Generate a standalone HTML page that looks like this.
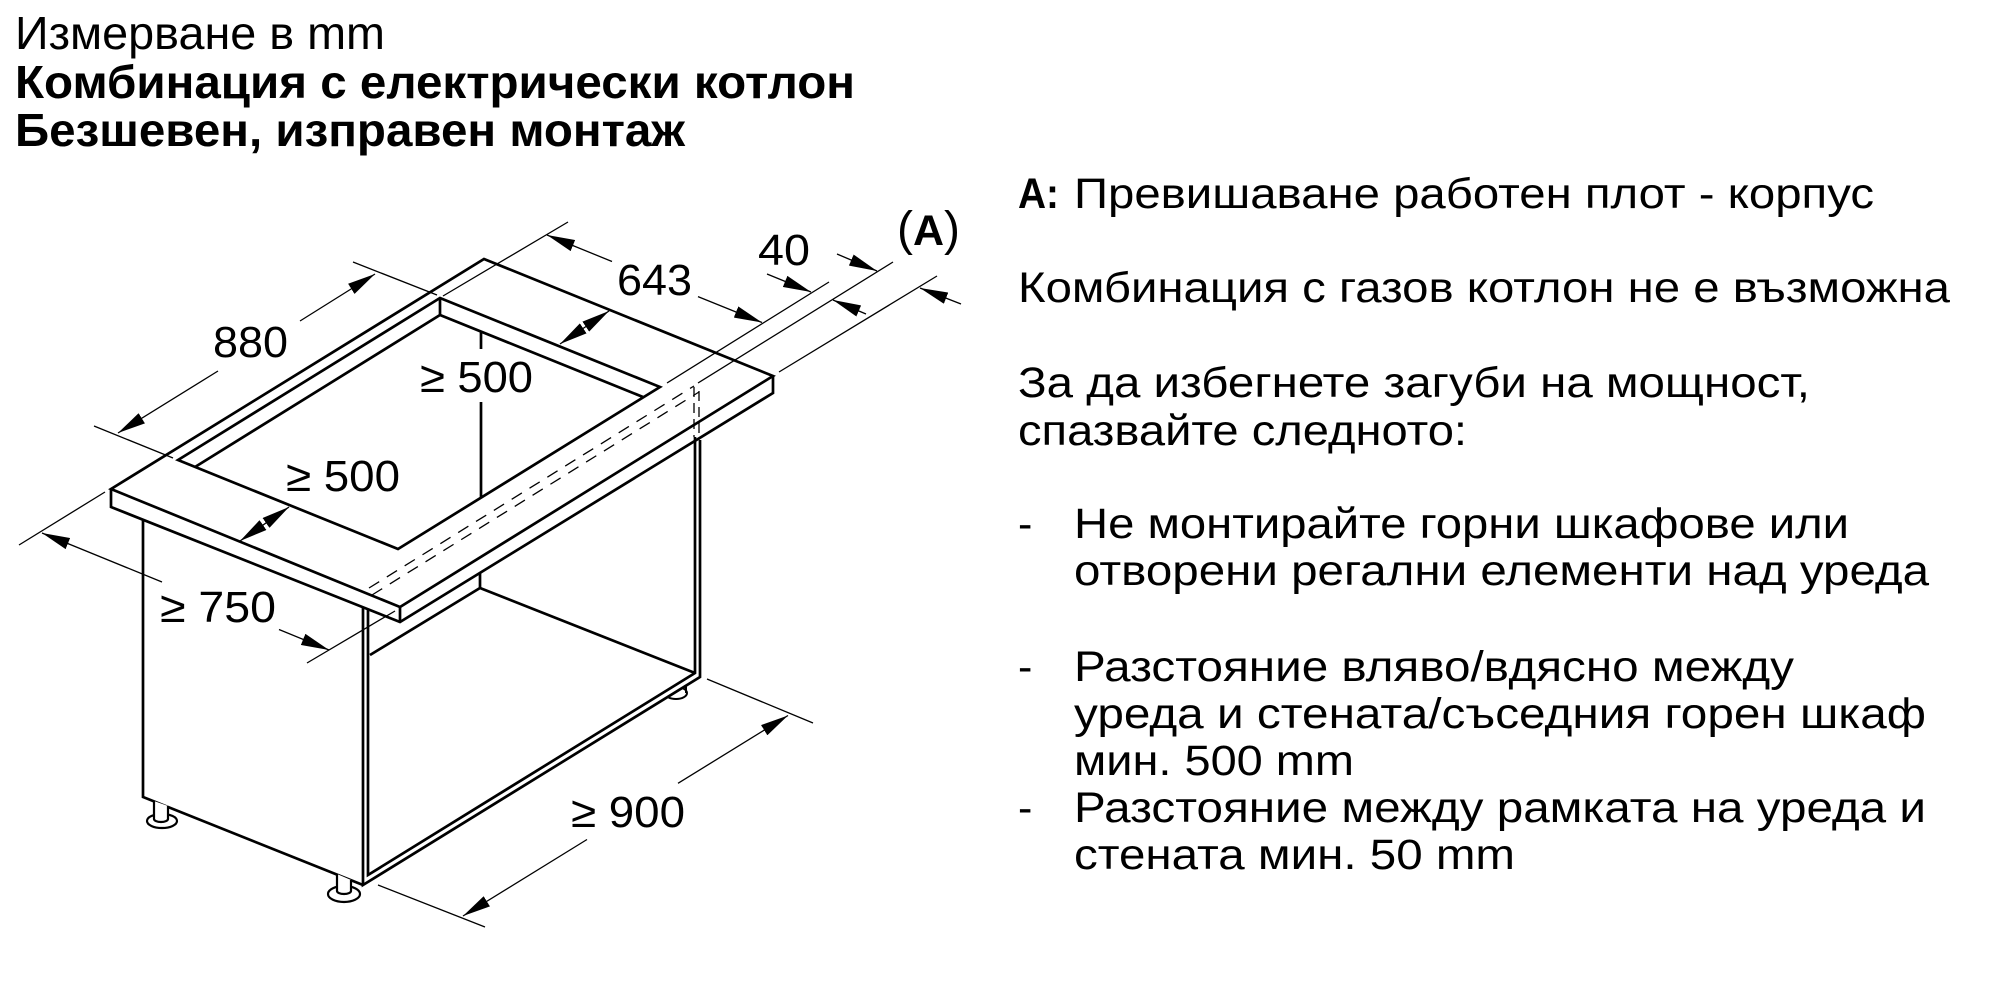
<!DOCTYPE html>
<html>
<head>
<meta charset="utf-8">
<style>
html,body{margin:0;padding:0;background:#fff;}
svg{display:block;}
text{font-family:"Liberation Sans","DejaVu Sans",sans-serif;fill:#000;}
</style>
</head>
<body>
<svg width="2000" height="1000" viewBox="0 0 2000 1000" xmlns="http://www.w3.org/2000/svg">
<defs>
<marker id="ah" viewBox="0 0 28 12" refX="28" refY="6" markerWidth="28" markerHeight="12" markerUnits="userSpaceOnUse" orient="auto-start-reverse">
<path d="M0,0 L28,6 L0,12 z" fill="#000"/>
</marker>
</defs>
<rect x="0" y="0" width="2000" height="1000" fill="#fff"/>

<!-- Header -->
<text x="15" y="49" font-size="46" textLength="370" lengthAdjust="spacingAndGlyphs">Измерване в mm</text>
<text x="15" y="98" font-size="46" font-weight="bold" textLength="840" lengthAdjust="spacingAndGlyphs">Комбинация с електрически котлон</text>
<text x="15" y="146" font-size="46" font-weight="bold" textLength="670" lengthAdjust="spacingAndGlyphs">Безшевен, изправен монтаж</text>

<!-- Right text -->
<g font-size="43">
<text x="1018" y="208" font-weight="bold" textLength="41" lengthAdjust="spacingAndGlyphs">A:</text>
<text x="1074" y="208" textLength="800" lengthAdjust="spacingAndGlyphs">Превишаване работен плот - корпус</text>
<text x="1018" y="302" textLength="932" lengthAdjust="spacingAndGlyphs">Комбинация с газов котлон не е възможна</text>
<text x="1018" y="397" textLength="792" lengthAdjust="spacingAndGlyphs">За да избегнете загуби на мощност,</text>
<text x="1018" y="445" textLength="449" lengthAdjust="spacingAndGlyphs">спазвайте следното:</text>
<text x="1018" y="538">-</text>
<text x="1074" y="538" textLength="775" lengthAdjust="spacingAndGlyphs">Не монтирайте горни шкафове или</text>
<text x="1074" y="585" textLength="855" lengthAdjust="spacingAndGlyphs">отворени регални елементи над уреда</text>
<text x="1018" y="681">-</text>
<text x="1074" y="681" textLength="720" lengthAdjust="spacingAndGlyphs">Разстояние вляво/вдясно между</text>
<text x="1074" y="728" textLength="852" lengthAdjust="spacingAndGlyphs">уреда и стената/съседния горен шкаф</text>
<text x="1074" y="775" textLength="280" lengthAdjust="spacingAndGlyphs">мин. 500 mm</text>
<text x="1018" y="822">-</text>
<text x="1074" y="822" textLength="852" lengthAdjust="spacingAndGlyphs">Разстояние между рамката на уреда и</text>
<text x="1074" y="869" textLength="441" lengthAdjust="spacingAndGlyphs">стената мин. 50 mm</text>
</g>

<!-- back foot (behind cabinet) -->
<ellipse cx="676" cy="693" rx="11" ry="6" fill="#fff" stroke="#000" stroke-width="2"/>
<line x1="686" y1="686" x2="686" y2="693" stroke="#000" stroke-width="2"/>
<!-- cabinet front face white cover -->
<polygon points="363,608 700,400 700,677 363,885" fill="#fff"/>

<!-- Thin dimension / extension lines -->
<g stroke="#000" stroke-width="1.3" fill="none">
<line x1="94" y1="426" x2="173" y2="458"/>
<line x1="353" y1="262" x2="437" y2="295"/>
<line x1="443" y1="296" x2="568" y2="222"/>
<line x1="667" y1="383" x2="829" y2="282"/>
<line x1="698" y1="383" x2="893" y2="262"/>
<line x1="779" y1="372" x2="937" y2="276"/>
<line x1="19" y1="545" x2="105" y2="492"/>
<line x1="307" y1="663" x2="395" y2="611"/>
<line x1="378" y1="885" x2="485" y2="927"/>
<line x1="707" y1="679" x2="813" y2="723"/>
<line x1="369" y1="588" x2="694" y2="386" stroke-dasharray="12 9"/>
<line x1="372" y1="595" x2="699" y2="392" stroke-dasharray="12 9"/>
<line x1="694" y1="387" x2="694" y2="437" stroke-dasharray="10 6"/>
<line x1="699" y1="391" x2="699" y2="440" stroke-dasharray="10 6"/>
</g>

<!-- dimension lines with arrows -->
<g stroke="#000" stroke-width="1.3" fill="none">
<line x1="118" y1="433" x2="218" y2="371" marker-start="url(#ah)"/>
<line x1="300" y1="321" x2="375" y2="274" marker-end="url(#ah)"/>
<line x1="547" y1="235" x2="612" y2="261.5" marker-start="url(#ah)"/>
<line x1="698" y1="296.6" x2="762" y2="322.5" marker-end="url(#ah)"/>
<line x1="42" y1="533" x2="162" y2="582" marker-start="url(#ah)"/>
<line x1="279" y1="629.5" x2="329" y2="650" marker-end="url(#ah)"/>
<line x1="463" y1="916" x2="587" y2="839.5" marker-start="url(#ah)"/>
<line x1="678" y1="783.3" x2="788" y2="715.5" marker-end="url(#ah)"/>
<line x1="240" y1="541" x2="289" y2="507" marker-start="url(#ah)" marker-end="url(#ah)"/>
<line x1="560" y1="344" x2="609" y2="311" marker-start="url(#ah)" marker-end="url(#ah)"/>
<line x1="767" y1="274" x2="811" y2="292" marker-end="url(#ah)"/>
<line x1="837" y1="254" x2="877" y2="271" marker-end="url(#ah)"/>
<line x1="866" y1="314" x2="833" y2="300" marker-end="url(#ah)"/>
<line x1="961" y1="304" x2="920" y2="288" marker-end="url(#ah)"/>
</g>

<!-- Main thick lines -->
<g stroke="#000" stroke-width="2.7" fill="none" stroke-linejoin="miter">
<polygon points="111,489 484,259 773,376 400,607"/>
<polyline points="111,489 111,507 400,622 773,393 773,376"/>
<line x1="400" y1="607" x2="400" y2="622"/>
<polygon points="178,460 440,298 660,387 398,549"/>
<polyline points="195,467 440,315 643,397"/>
<line x1="440" y1="298" x2="440" y2="315"/>
<line x1="481" y1="331" x2="481" y2="349"/>
<line x1="481" y1="402" x2="481" y2="497"/>
<polyline points="143,520 143,797 363,885"/>
<polyline points="363,608 363,885 700,677 700,440"/>
<polyline points="368,610 368,875 695,673 695,437"/>
<polyline points="370,655 480,588 695,673"/>
<line x1="480" y1="573" x2="480" y2="588"/>
</g>

<!-- feet -->
<g stroke="#000" stroke-width="2.2">
<ellipse cx="162" cy="821" rx="15" ry="7" fill="#fff"/>
<path d="M154,801 L154,819 A7,3 0 0 0 168,819 L168,806" fill="#fff"/>
<ellipse cx="344" cy="894" rx="16" ry="8" fill="#fff"/>
<path d="M337,874 L337,891 A7,3 0 0 0 351,891 L351,880" fill="#fff"/>
</g>

<!-- diagram labels -->
<g font-size="44">
<text x="213" y="357" textLength="75" lengthAdjust="spacingAndGlyphs">880</text>
<text x="420" y="392" textLength="113" lengthAdjust="spacingAndGlyphs">≥ 500</text>
<text x="286" y="491" textLength="114" lengthAdjust="spacingAndGlyphs">≥ 500</text>
<text x="160" y="622" textLength="116" lengthAdjust="spacingAndGlyphs">≥ 750</text>
<text x="617" y="295" textLength="75" lengthAdjust="spacingAndGlyphs">643</text>
<text x="758" y="265" textLength="52" lengthAdjust="spacingAndGlyphs">40</text>
<text x="571" y="827" textLength="114" lengthAdjust="spacingAndGlyphs">≥ 900</text>
<text x="897" y="245" font-size="48">(<tspan font-weight="bold" font-size="43">A</tspan>)</text>
</g>
</svg>
</body>
</html>
